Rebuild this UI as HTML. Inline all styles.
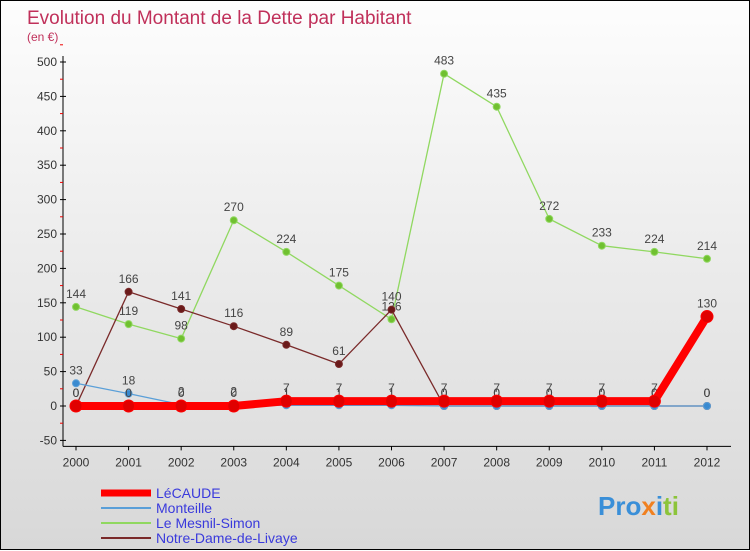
<!DOCTYPE html>
<html><head><meta charset="utf-8"><style>
html,body{margin:0;padding:0}
body{width:750px;height:550px;overflow:hidden;font-family:"Liberation Sans","DejaVu Sans",sans-serif}
#wrap{position:relative;width:748px;height:548px;border:1px solid #000;background:linear-gradient(#fdfdfd,#d8d8d8)}
svg{position:absolute;left:0;top:0}
</style></head><body>
<div id="wrap">
<svg id="chart" width="750" height="550">
<text x="26" y="23" font-size="19" fill="#c0305a">Evolution du Montant de la Dette par Habitant</text>
<text x="26" y="40" font-size="12" fill="#c0305a">(en €)</text>
<text x="597" y="514" font-size="26" font-weight="bold" fill="#3a8fd8">Pro<tspan fill="#f08020">x</tspan><tspan fill="#3a8fd8">i</tspan><tspan fill="#8cc43a">ti</tspan></text>
</svg>
</div>
<script>
const years=[2000,2001,2002,2003,2004,2005,2006,2007,2008,2009,2010,2011,2012];
const yTicks=[-50,0,50,100,150,200,250,300,350,400,450,500];
const lecaude=[0,0,0,0,7,7,7,7,7,7,7,7,130];
const monteille=[33,18,2,2,1,1,1,0,0,0,0,0,0];
const mesnil=[144,119,98,270,224,175,126,483,435,272,233,224,214];
const notreDame=[0,166,141,116,89,61,140,0,0,0,0,0,0];
const seriesNames=["LéCAUDE","Monteille","Le Mesnil-Simon","Notre-Dame-de-Livaye"];

const svg=document.getElementById('chart');
const NS='http://www.w3.org/2000/svg';
const X=i=>75+i*(706-75)/(years.length-1);
const Y=v=>405-v*(405-61)/500;
function mk(t,a){const e=document.createElementNS(NS,t);for(const k in a)e.setAttribute(k,a[k]);svg.appendChild(e);return e;}

// axes
let ax=mk('line',{x1:62,y1:Y(500)-6,x2:62,y2:Y(-50)+6,stroke:'#000'});


let xa=mk('line',{x1:62,y1:Y(-50)+6,x2:730,y2:Y(-50)+6,stroke:'#000'});


yTicks.forEach(v=>{
  mk('line',{x1:59,x2:65,y1:Y(v),y2:Y(v),stroke:'#000'});
  mk('line',{x1:59,x2:62,y1:Y(v+25),y2:Y(v+25),stroke:'#e00'});
  const t=mk('text',{x:56,y:Y(v)+4,'text-anchor':'end','font-size':12,fill:'#333'});
  t.textContent=v;
  
  
});
years.forEach((y,i)=>{
  mk('line',{x1:X(i),x2:X(i),y1:Y(-50)+6,y2:Y(-50)+10,stroke:'#000'});
  const t=mk('text',{x:X(i),y:Y(-50)+26,'text-anchor':'middle','font-size':12,fill:'#333'});
  t.textContent=y;
  
  
});

function series(vals,color,dot,w,r,name,labels){
  const p=mk('polyline',{points:vals.map((v,i)=>X(i)+','+Y(v)).join(' '),fill:'none',stroke:color,'stroke-width':w,'stroke-linejoin':'round'});
  
  
  vals.forEach((v,i)=>{
    const c=mk('circle',{cx:X(i),cy:Y(v),r:r,fill:dot,stroke:color,'stroke-width':1});
    
    
    if(labels){
      const t=mk('text',{x:X(i),y:Y(v)-9,'text-anchor':'middle','font-size':12,fill:'#444'});
      t.textContent=v;
      
      
    }
  });
}
series(mesnil,'#90d860','#70c030',1.3,3.5,'mesnil',true);
series(notreDame,'#7a2a2a','#6a1a1a',1.3,3.5,'notre-dame',true);
series(monteille,'#5a9fd8','#3a8ad0',1.3,3.5,'monteille',true);
series(lecaude,'#ff0000','#e00000',8,6,'lecaude',true);

const legColors=['#ff0000','#5a9fd8','#90d860','#7a2a2a'];
const legW=[7,2,2,2];
seriesNames.forEach((n,i)=>{
  const y=492+i*15;
  const l=mk('line',{x1:100,x2:150,y1:y,y2:y,stroke:legColors[i],'stroke-width':legW[i]});
  
  
  const t=mk('text',{x:155,y:y+5,'font-size':14,fill:'#3a3adc'});
  t.textContent=n;
  
  
});
</script>
</body></html>
